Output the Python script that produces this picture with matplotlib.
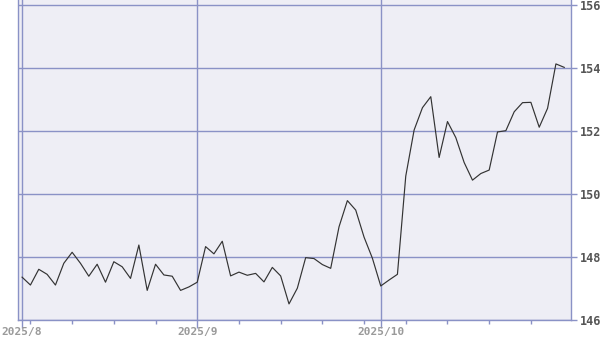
import matplotlib
matplotlib.use("Agg")
import matplotlib.pyplot as plt
import pandas as pd
import numpy as np

start_date = "2025-08-01"
end_date = "2025-10-31"
aug_vals = [147.36, 147.11, 147.61, 147.45, 147.11, 147.80, 148.15, 147.80, 147.39, 147.77,
            147.20, 147.85, 147.69, 147.32, 148.38, 146.94, 147.77, 147.43, 147.39, 146.94, 147.05]
sep_vals = [147.20, 148.33, 148.10, 148.50, 147.40, 147.52, 147.42, 147.48, 147.21, 147.67,
            147.40, 146.51, 147.01, 147.98, 147.95, 147.76, 147.64, 148.96, 149.79, 149.49,
            148.63, 147.96]
oct_vals = [147.08, 147.27, 147.45, 150.57, 152.03, 152.74, 153.09, 151.16, 152.30, 151.79,
            151.00, 150.44, 150.65, 150.76, 151.97, 152.01, 152.61, 152.90, 152.91, 152.12,
            152.72, 154.13, 154.02]
y_ticks = [146, 148, 150, 152, 154, 156]

values = aug_vals + sep_vals + oct_vals
dates = pd.bdate_range(start_date, end_date)
x = np.arange(len(dates))

GRID = "#8a92c6"
BG = "#eeeef5"

fig = plt.figure(figsize=(6, 3.4), dpi=100)
ax = fig.add_axes([17.5 / 600, 20 / 340, (570.5 - 17.5) / 600, 320 / 340])
ax.set_facecolor(BG)

ax.plot(x, values, color="#333333", lw=0.85, zorder=3)

ax.set_xlim(-0.55, len(dates) - 0.25)
ax.set_ylim(146, 146 + 320 / 31.5)

# month starts & Mondays
month_idx = [i for i in range(len(dates)) if i == 0 or dates[i].month != dates[i - 1].month]
month_lbl = [f"{dates[i].year}/{dates[i].month}" for i in month_idx]
monday_idx = [i for i in range(len(dates)) if dates[i].weekday() == 0 and i not in month_idx]

ax.set_xticks(month_idx)
ax.set_xticklabels(month_lbl)
ax.set_xticks(monday_idx, minor=True)
ax.tick_params(axis="x", which="major", length=5.5, width=1, color=GRID, pad=-0.5,
               labelsize=8, labelcolor="#9a9a9a")
ax.tick_params(axis="x", which="minor", length=3, width=1, color=GRID)
for lbl in ax.get_xticklabels():
    lbl.set_fontfamily("DejaVu Sans Mono")
    lbl.set_fontweight("bold")

ax.yaxis.tick_right()
ax.set_yticks(y_ticks)
ax.set_yticklabels([str(v) for v in y_ticks])
ax.tick_params(axis="y", which="major", length=4.5, width=1, color=GRID, pad=2,
               labelsize=8.5, labelcolor="#555555")
for lbl in ax.get_yticklabels():
    lbl.set_fontfamily("DejaVu Sans Mono")
    lbl.set_fontweight("bold")

for i in month_idx:
    ax.axvline(i, color=GRID, lw=1, zorder=1)
for v in y_ticks:
    ax.axhline(v, color=GRID, lw=1, zorder=1)

for s in ["left", "bottom", "right"]:
    ax.spines[s].set_color(GRID)
    ax.spines[s].set_linewidth(1)
ax.spines["top"].set_visible(False)

fig.savefig("out.png", dpi=100)
